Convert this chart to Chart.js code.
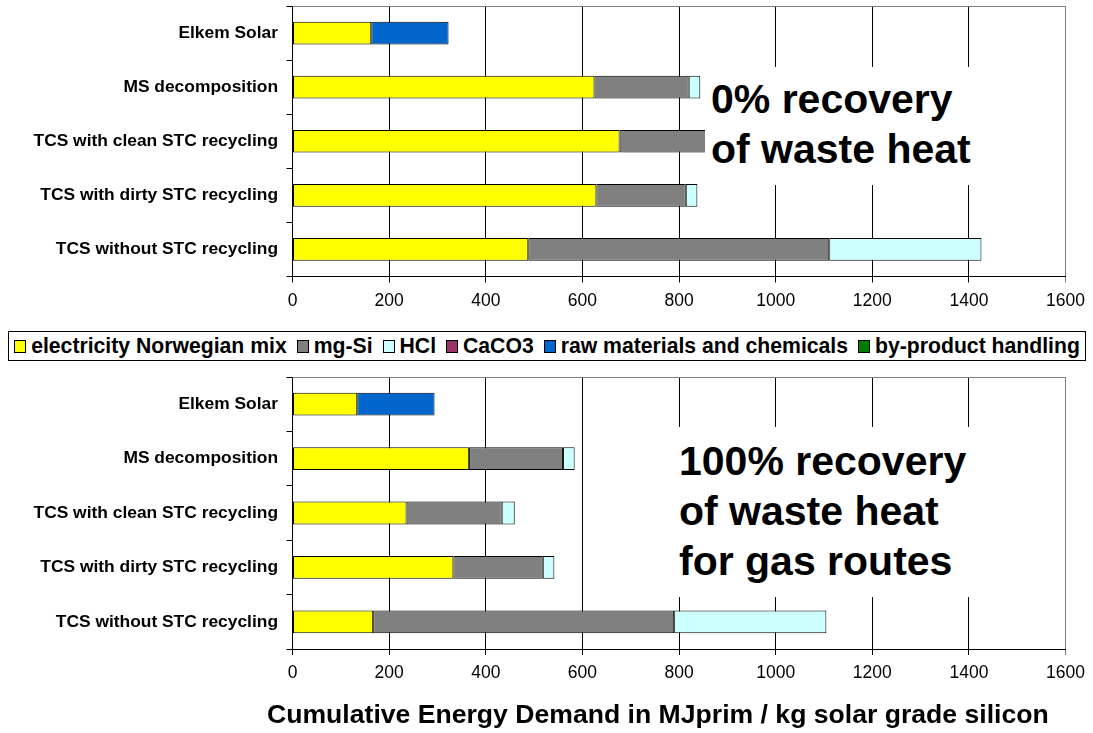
<!DOCTYPE html>
<html>
<head>
<meta charset="utf-8">
<title>Cumulative Energy Demand - solar grade silicon</title>
<script src="https://cdn.jsdelivr.net/npm/chart.js@4"></script>
<style>
    body { margin: 0; background: #fff; font-family: "Liberation Sans", Arial, sans-serif; }
    #wrap { position: relative; width: 1093px; height: 733px; background: #fff; overflow: hidden; }
    .box { position: absolute; left: 0; width: 1093px; }
    #legend {
        position: absolute; left: 8px; top: 331px; width: 1076px; height: 28px;
        border: 1px solid #000; display: flex; align-items: center; justify-content: center;
        font-weight: bold; font-size: 21.2px; white-space: nowrap; color: #000;
    }
    #legend .item { display: flex; align-items: center; margin: 0 5px; }
    #legend .sw { width: 10px; height: 11px; border: 1px solid #000; margin-right: 5px; }
    .note {
        position: absolute; background: #fff; font-weight: bold; font-size: 41px;
        line-height: 50px; color: #000; white-space: nowrap; box-sizing: border-box;
    }
    #xtitle {
        position: absolute; left: 267px; top: 699px; font-weight: bold; font-size: 26.6px;
        line-height: 30px; white-space: nowrap; color: #000;
    }
</style>
</head>
<body>
<div id="wrap">
    <div class="box" style="top:0;height:325px"><canvas id="chartNoRecovery"></canvas></div>
    <div id="legend"></div>
    <div class="box" style="top:366px;height:367px"><canvas id="chartRecovery"></canvas></div>
    <div class="note" style="left:705px;top:67px;width:285px;height:118px;padding:7px 0 0 6px">0% recovery<br>of waste heat</div>
    <div class="note" style="left:676px;top:427px;width:310px;height:170px;padding:9px 0 0 3px">100% recovery<br>of waste heat<br>for gas routes</div>
    <div id="xtitle">Cumulative Energy Demand in MJprim / kg solar grade silicon</div>
</div>
<script>
// Categories, top to bottom
const categories = [
    'Elkem Solar',
    'MS decomposition',
    'TCS with clean STC recycling',
    'TCS with dirty STC recycling',
    'TCS without STC recycling'
];

const seriesNames = ['electricity Norwegian mix', 'mg-Si', 'HCl', 'CaCO3', 'raw materials and chemicals', 'by-product handling'];
const seriesColors = ['#FFFF00', '#808080', '#CCFFFF', '#993366', '#0066CC', '#008000'];

const xTicks = [0, 200, 400, 600, 800, 1000, 1200, 1400, 1600];

// MJprim / kg, 0% recovery of waste heat
const electricityNoRecovery = [163, 625, 677, 629, 488];
// 100% recovery of waste heat for gas routes
const electricityRecovery = [134, 365, 236, 333, 167];

// same in both cases
const mgSi = [0, 195, 197, 185, 623];
const hcl = [0, 24, 27, 24, 315];
const caco3 = [0, 0, 0, 0, 0];
const rawMaterials = [160, 0, 0, 0, 0];
const byProduct = [0, 0, 0, 0, 0];

const FONT = '"Liberation Sans", Arial, sans-serif';

// gray frame line on top of the plot area
const topBorder = {
    id: 'topBorder',
    afterDraw(chart) {
        const a = chart.chartArea;
        const ctx = chart.ctx;
        ctx.save();
        ctx.strokeStyle = '#808080';
        ctx.lineWidth = 1;
        ctx.beginPath();
        ctx.moveTo(a.left, Math.round(a.top) + 0.5);
        ctx.lineTo(a.right, Math.round(a.top) + 0.5);
        ctx.stroke();
        ctx.restore();
    }
};

function makeChart(canvasId, electricity, padTop, axisHeight) {
    const values = [electricity, mgSi, hcl, caco3, rawMaterials, byProduct];
    return new Chart(document.getElementById(canvasId), {
        type: 'bar',
        data: {
            labels: categories,
            datasets: seriesNames.map((name, i) => ({
                label: name,
                data: values[i],
                backgroundColor: seriesColors[i],
                borderColor: '#000',
                borderWidth: 1,
                borderSkipped: false,
                barPercentage: 0.42,
                categoryPercentage: 1
            }))
        },
        options: {
            indexAxis: 'y',
            responsive: true,
            maintainAspectRatio: false,
            animation: false,
            layout: { padding: { top: padTop, right: 24.5, left: 0, bottom: 0 } },
            plugins: {
                legend: { display: false },
                tooltip: { enabled: false }
            },
            scales: {
                x: {
                    stacked: true,
                    min: 0,
                    max: 1600,
                    afterBuildTicks: scale => { scale.ticks = xTicks.map(v => ({ value: v })); },
                    afterFit: scale => { scale.height = axisHeight; },
                    grid: {
                        color: c => (c.tick && c.tick.value === 1600) ? '#808080' : '#000',
                        lineWidth: 1,
                        tickLength: 6
                    },
                    border: { color: '#000' },
                    ticks: {
                        color: '#000',
                        padding: 8,
                        font: { family: FONT, size: 17.5 },
                        callback: v => String(v)
                    }
                },
                y: {
                    stacked: true,
                    afterFit: scale => {
                        scale.width = 292.5;
                        // labels sit between the category ticks, no overflow at the ends
                        scale.paddingTop = 0;
                        scale.paddingBottom = 0;
                    },
                    grid: {
                        drawOnChartArea: false,
                        color: '#000',
                        tickLength: 6,
                        offset: true
                    },
                    border: { color: '#000' },
                    ticks: {
                        color: '#000',
                        padding: 8.5,
                        font: { family: FONT, size: 17.4, weight: 'bold' }
                    }
                }
            }
        },
        plugins: [topBorder]
    });
}

// Legend
const legend = document.getElementById('legend');
seriesNames.forEach((name, i) => {
    const item = document.createElement('span');
    item.className = 'item';
    const sw = document.createElement('span');
    sw.className = 'sw';
    sw.style.background = seriesColors[i];
    item.appendChild(sw);
    item.appendChild(document.createTextNode(name));
    legend.appendChild(item);
});

makeChart('chartNoRecovery', electricityNoRecovery, 6, 48.5);
makeChart('chartRecovery', electricityRecovery, 11, 84);
</script>
</body>
</html>
